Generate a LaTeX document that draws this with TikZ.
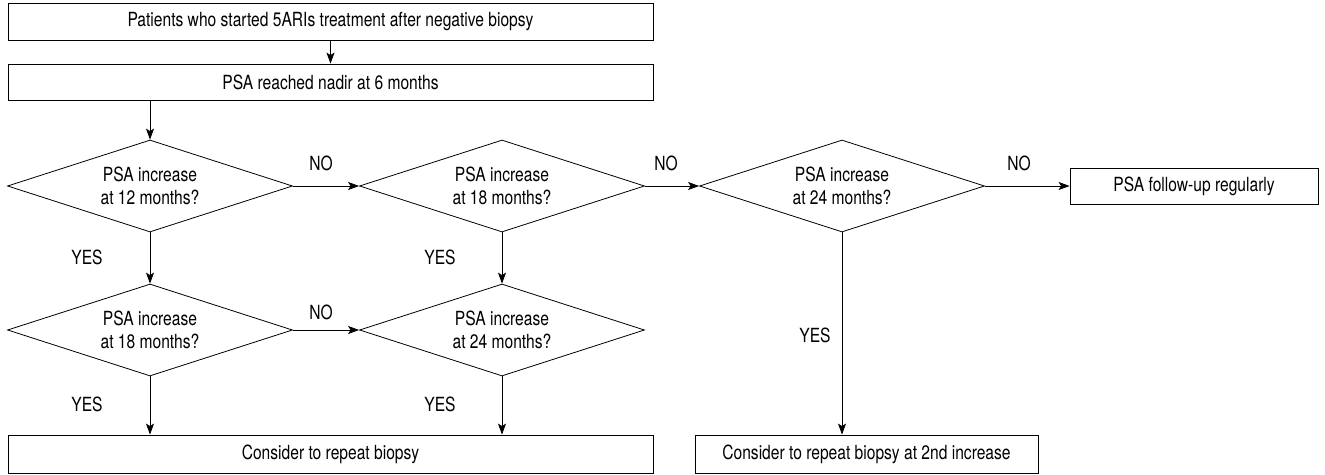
\documentclass[tikz,border=0pt]{standalone}
\usepackage{fontspec}
\setmainfont{TeX Gyre Heros}[FakeStretch=0.8]
\usetikzlibrary{shapes.geometric,arrows.meta}
\begin{document}
\begin{tikzpicture}[x=1pt,y=-1pt,
  font=\fontsize{19.5}{23}\selectfont,
  every path/.style={line width=0.8pt},
  flowbox/.style={draw, rectangle, inner sep=0pt, align=center},
  decide/.style={draw, diamond, inner sep=0pt, align=center, minimum width=285pt, minimum height=92pt, aspect=3.1},
  conn/.style={draw, -{Stealth[length=11pt,width=8pt,inset=2.5pt]}},
  lbl/.style={inner sep=0pt}]
\useasboundingbox (0,0) rectangle (1325,474);
\node[flowbox, minimum width=645pt, minimum height=37pt] (b1) at (330.5,21.5) {Patients who started 5ARIs treatment after negative biopsy};
\node[flowbox, minimum width=645pt, minimum height=36pt] (b2) at (330.5,82) {PSA reached nadir at 6 months};
\node[decide] (d1) at (150,186) {PSA increase\\at 12 months?};
\node[decide] (d2) at (502,186) {PSA increase\\at 18 months?};
\node[decide] (d3) at (842,186) {PSA increase\\at 24 months?};
\node[flowbox, minimum width=248pt, minimum height=36pt] (bf) at (1194,186) {PSA follow-up regularly};
\node[decide] (d4) at (150,330) {PSA increase\\at 18 months?};
\node[decide] (d5) at (502,330) {PSA increase\\at 24 months?};
\node[flowbox, minimum width=645pt, minimum height=38pt] (bl) at (330.5,454) {Consider to repeat biopsy};
\node[flowbox, minimum width=343pt, minimum height=38pt] (br) at (866.5,454) {Consider to repeat biopsy at 2nd increase};

\draw[conn] (b1.south) -- (b2.north);
\draw[conn] (b2.south -| d1.north) -- (d1.north);
\draw[conn] (d1.east) -- (d2.west);
\draw[conn] (d2.east) -- (d3.west);
\draw[conn] (d3.east) -- (bf.west);
\draw[conn] (d1.south) -- (d4.north);
\draw[conn] (d2.south) -- (d5.north);
\draw[conn] (d4.east) -- (d5.west);
\draw[conn] (d4.south) -- (d4.south |- bl.north);
\draw[conn] (d5.south) -- (d5.south |- bl.north);
\draw[conn] (d3.south) -- (d3.south |- br.north);

\node[lbl] (n1) at (321,163) {NO};
\node[lbl] (n2) at (666,163) {NO};
\node[lbl] (n3) at (1019,163) {NO};
\node[lbl] (n4) at (321,312) {NO};
\node[lbl] (y1) at (87,257) {YES};
\node[lbl] (y2) at (440,257) {YES};
\node[lbl] (y3) at (87,404) {YES};
\node[lbl] (y4) at (440,404) {YES};
\node[lbl] (y5) at (815,335) {YES};
\end{tikzpicture}
\end{document}
